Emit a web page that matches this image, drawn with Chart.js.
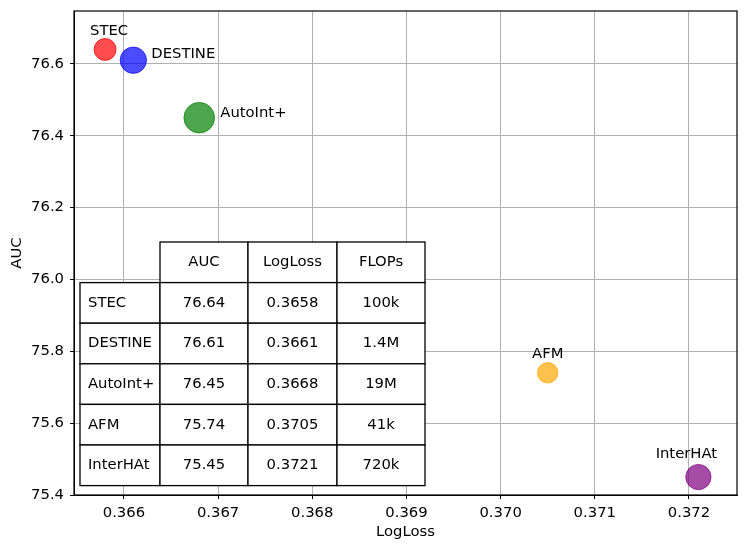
<!DOCTYPE html>
<html>
<head>
<meta charset="utf-8">
<script src="https://cdn.jsdelivr.net/npm/chart.js@4.4.1/dist/chart.umd.min.js"></script>
<style>
  html, body { margin: 0; padding: 0; background: #fff; }
  #wrap { width: 747px; height: 550px; }
</style>
</head>
<body>
<div id="wrap"><canvas id="bubble"></canvas></div>
<script>
'use strict';

// data
var models = ['STEC', 'DESTINE', 'AutoInt+', 'AFM', 'InterHAt'];
var logloss = [0.3658, 0.3661, 0.3668, 0.3705, 0.3721];
var auc = [76.64, 76.61, 76.45, 75.74, 75.45];
var flops = [1e5, 1.4e6, 1.9e7, 4.1e4, 7.2e5];
var flopsText = ['100k', '1.4M', '19M', '41k', '720k'];
var tableHeader = ['AUC', 'LogLoss', 'FLOPs'];

var colors = ['#ff0000', '#0000ff', '#008000', '#ffa500', '#800080'];
var FONT = '"DejaVu Sans", sans-serif';
var FS = 14.8;

function alpha(hex, a) {
  var n = parseInt(hex.slice(1), 16);
  return 'rgba(' + (n >> 16) + ',' + ((n >> 8) & 255) + ',' + (n & 255) + ',' + a + ')';
}

// label offsets relative to the bubble centre, [dx, dy, align]
var labelPos = [
  [4, -18, 'center'],
  [18, -6, 'left'],
  [21, -5, 'left'],
  [0, -19, 'center'],
  [-12, -23, 'center']
];

var points = models.map(function(m, i) {
  return { x: logloss[i], y: auc[i], r: 1.9 * Math.log10(flops[i]) + 1.5 };
});

function noPad(s) {
  s.paddingTop = 0; s.paddingBottom = 0; s.paddingLeft = 0; s.paddingRight = 0;
}

var extras = {
  id: 'extras',
  afterDatasetsDraw: function(chart) {
    var ctx = chart.ctx, a = chart.chartArea;
    var meta = chart.getDatasetMeta(0);
    ctx.save();
    ctx.font = FS + 'px ' + FONT;
    ctx.fillStyle = '#000';
    ctx.textBaseline = 'middle';
    meta.data.forEach(function(el, i) {
      var p = labelPos[i];
      ctx.textAlign = p[2];
      ctx.fillText(models[i], el.x + p[0], el.y + p[1]);
    });

    // table
    var x0 = 80, colW = [80, 88, 89, 88], rowH = 40.6, yHead = 242;
    var xs = [x0];
    colW.forEach(function(w) { xs.push(xs[xs.length - 1] + w); });
    ctx.lineWidth = 1.3;
    ctx.strokeStyle = '#000';
    // header cells (no corner cell)
    for (var c = 1; c < 4; c++) {
      ctx.fillStyle = '#fff';
      ctx.fillRect(xs[c], yHead, colW[c], rowH);
      ctx.strokeRect(xs[c], yHead, colW[c], rowH);
      ctx.fillStyle = '#000';
      ctx.textAlign = 'center';
      ctx.fillText(tableHeader[c - 1], xs[c] + colW[c] / 2, yHead + rowH / 2);
    }
    models.forEach(function(m, r) {
      var y = yHead + rowH * (r + 1);
      var vals = [m, auc[r].toFixed(2), logloss[r].toFixed(4), flopsText[r]];
      for (var c = 0; c < 4; c++) {
        ctx.fillStyle = '#fff';
        ctx.fillRect(xs[c], y, colW[c], rowH);
        ctx.strokeRect(xs[c], y, colW[c], rowH);
        ctx.fillStyle = '#000';
        if (c === 0) {
          ctx.textAlign = 'left';
          ctx.fillText(vals[c], xs[c] + 8, y + rowH / 2);
        } else {
          ctx.textAlign = 'center';
          ctx.fillText(vals[c], xs[c] + colW[c] / 2, y + rowH / 2);
        }
      }
    });

    // frame
    ctx.lineWidth = 1.2;
    ctx.strokeRect(a.left, a.top, a.right - a.left, a.bottom - a.top);
    ctx.restore();
  }
};

new Chart(document.getElementById('bubble'), {
  type: 'bubble',
  data: {
    datasets: [{
      data: points,
      backgroundColor: colors.map(function(c) { return alpha(c, 0.7); }),
      borderColor: colors.map(function(c) { return alpha(c, 0.7); }),
      borderWidth: 1,
      hoverRadius: 0
    }]
  },
  options: {
    responsive: true,
    maintainAspectRatio: false,
    animation: false,
    layout: { autoPadding: false, padding: { top: 11, right: 10, left: 0, bottom: 0 } },
    plugins: { legend: { display: false }, tooltip: { enabled: false } },
    scales: {
      x: {
        type: 'linear',
        min: 0.36547,
        max: 0.37251,
        title: { display: true, text: 'LogLoss', color: '#000', font: { family: FONT, size: FS }, padding: { top: 0, bottom: 9 } },
        ticks: {
          stepSize: 0.001, includeBounds: false, color: '#000', padding: 5,
          font: { family: FONT, size: FS },
          callback: function(v) { return v.toFixed(3); }
        },
        grid: { color: '#b0b0b0', tickColor: '#000', tickLength: 4, lineWidth: 1 },
        border: { color: '#000' },
        afterFit: function(s) { s.height = 55; noPad(s); }
      },
      y: {
        type: 'linear',
        min: 75.4,
        max: 76.747,
        title: { display: true, text: 'AUC', color: '#000', font: { family: FONT, size: FS }, padding: { top: 8, bottom: 0 } },
        ticks: {
          stepSize: 0.2, includeBounds: false, color: '#000', padding: 6,
          font: { family: FONT, size: FS },
          callback: function(v) { return v.toFixed(1); }
        },
        grid: { color: '#b0b0b0', tickColor: '#000', tickLength: 4, lineWidth: 1 },
        border: { color: '#000' },
        afterFit: function(s) { s.width = 74; noPad(s); }
      }
    }
  },
  plugins: [extras]
});
</script>
</body>
</html>
